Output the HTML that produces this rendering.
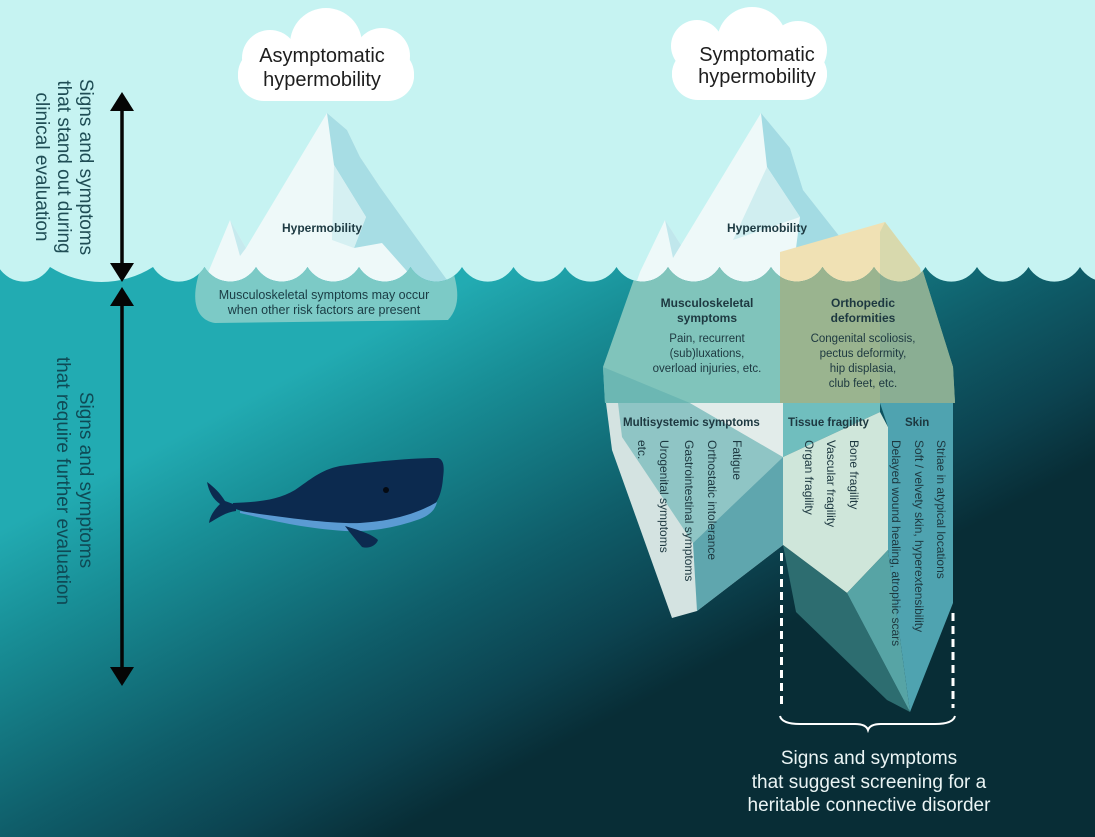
<!DOCTYPE html>
<html><head><meta charset="utf-8">
<style>
html,body{margin:0;padding:0;background:#c6f3f2;}
svg{display:block;}
text{font-family:"Liberation Sans",Arial,sans-serif;}
</style></head><body>
<svg width="1095" height="837" viewBox="0 0 1095 837" xmlns="http://www.w3.org/2000/svg">
<defs>
<linearGradient id="wg" gradientUnits="userSpaceOnUse" x1="104" y1="475" x2="317" y2="875">
<stop offset="0" stop-color="#22abb2"/>
<stop offset="0.22" stop-color="#188e96"/>
<stop offset="0.59" stop-color="#0f5e6a"/>
<stop offset="0.83" stop-color="#0c4350"/>
<stop offset="1" stop-color="#082d36"/>
</linearGradient>
<clipPath id="wc"><path d="M-1.5,267 A30,30 0 0 0 50,267 A96,96 0 0 0 153,267 A30,30 0 0 0 204.5,267 A30,30 0 0 0 256,267 A30,30 0 0 0 307.5,267 A30,30 0 0 0 359,267 A30,30 0 0 0 410.5,267 A30,30 0 0 0 462,267 A30,30 0 0 0 513.5,267 A30,30 0 0 0 565,267 A30,30 0 0 0 616.5,267 A30,30 0 0 0 668,267 A30,30 0 0 0 719.5,267 A30,30 0 0 0 771,267 A30,30 0 0 0 822.5,267 A30,30 0 0 0 874,267 A30,30 0 0 0 925.5,267 A30,30 0 0 0 977,267 A30,30 0 0 0 1028.5,267 A30,30 0 0 0 1080,267 A30,30 0 0 0 1131.5,267 L1131.5,837 L-2,837 Z"/></clipPath>
</defs>

<rect width="1095" height="837" fill="#c6f3f2"/>

<!-- clouds -->
<g fill="#ffffff">
<rect x="238" y="48" width="176" height="53" rx="26"/>
<circle cx="270" cy="58" r="28"/>
<circle cx="326" cy="44" r="36"/>
<circle cx="382" cy="56" r="28"/>
<circle cx="390" cy="76" r="24"/>
<circle cx="262" cy="76" r="24"/>

<rect x="672" y="48" width="155" height="52" rx="26"/>
<circle cx="697" cy="46" r="26"/>
<circle cx="752" cy="42" r="35"/>
<circle cx="798" cy="50" r="29"/>
<circle cx="696" cy="74" r="24"/>
<circle cx="803" cy="74" r="24"/>
</g>
<text x="322" y="62" font-size="20" fill="#1e1e1e" text-anchor="middle">Asymptomatic</text>
<text x="322" y="86" font-size="20" fill="#1e1e1e" text-anchor="middle">hypermobility</text>
<text x="757" y="61" font-size="20" fill="#1e1e1e" text-anchor="middle">Symptomatic</text>
<text x="757" y="83" font-size="20" fill="#1e1e1e" text-anchor="middle">hypermobility</text>

<!-- left iceberg above water -->
<path d="M198,295 L210,268 L230,220 L246,248 L327,113 L347,130 L360,157 L380,187 L413,233 L458,295 Z" fill="#eef9f9"/>
<path d="M327,113 L347,130 L360,157 L380,187 L413,233 L458,295 L428,295 L382,243 L354,248 L366,217 L334,165 Z" fill="#a7dde4"/>
<path d="M334,165 L366,217 L354,248 L332,240 Z" fill="#d5f0f2"/>
<path d="M230,220 L246,248 L240,256 Z" fill="#c6eaee"/>

<!-- right iceberg above water -->
<path d="M632,295 L640,272 L665,220 L681,245 L761,113 L790,148 L803,190 L840,237 L860,295 Z" fill="#eef9f9"/>
<path d="M761,113 L790,148 L803,190 L840,237 L860,295 L790,295 L800,217 L767,167 Z" fill="#a3dbe3"/>
<path d="M767,167 L800,217 L733,240 Z" fill="#d0eef0"/>
<path d="M665,220 L681,245 L673,258 Z" fill="#c0e7ec"/>
<path d="M780,252 L885,222 L920,268 L925,295 L780,295 Z" fill="#f0e1b4"/>
<path d="M885,222 L920,268 L925,295 L880,295 L880,232 Z" fill="#d8d9ad"/>

<!-- water -->
<rect width="1095" height="837" fill="url(#wg)" clip-path="url(#wc)"/>

<!-- underwater parts -->
<g clip-path="url(#wc)">
<path d="M203,262 L450,262 C458,285 462,305 448,320 L215,323 C196,320 188,300 203,262 Z" fill="#7ccac6"/>

<path d="M640,262 L780,262 L780,403 L605,403 L603,367 Z" fill="#80c4bb"/>
<path d="M603,367 L690,403 L605,403 Z" fill="#6cb7b3"/>
<path d="M780,262 L920,262 L953,367 L955,403 L780,403 Z" fill="#9ab48f"/>
<path d="M880,262 L920,262 L953,367 L955,403 L880,403 Z" fill="#8aae93"/>
</g>

<!-- lower band -->
<path d="M606,403 L783,403 L783,545 L697,611 L672,618 L612,450 Z" fill="#d4e3e1"/>
<path d="M618,403 L690,403 L783,457 L693,543 L622,437 Z" fill="#8fc5c5"/>
<path d="M690,403 L783,403 L783,457 Z" fill="#e2ecea"/>
<path d="M783,457 L783,545 L697,611 L693,543 Z" fill="#5fa6ae"/>

<path d="M783,403 L880,403 L880,412 L783,457 Z" fill="#70bebe"/>
<path d="M783,457 L880,412 L888,427 L888,550 L847,593 L783,545 Z" fill="#cfe6da"/>
<path d="M783,545 L847,593 L910,712 L887,700 L796,612 Z" fill="#2d6d70"/>
<path d="M847,593 L888,550 L910,712 Z" fill="#57a4a5"/>
<path d="M880,403 L953,403 L953,603 L910,712 L888,550 L888,427 Z" fill="#4fa3b0"/>

<!-- whale -->
<path d="M236,505 L225,501 C220,493 214,487 207,482 C209,492 213,499 220,504 C214,510 210,516 209,523 C218,518 226,512 236,511 Z" fill="#0c2a4f"/>
<path d="M233,503 C250,502 275,502 295,490 C310,480 320,470 340,466 C370,462 410,458 438,458 C445,460 444,470 443,478 C442,492 438,503 430,509 C410,520 385,528 360,530 C330,531 290,522 255,514 C245,512 238,510 233,508 Z" fill="#0c2a4f"/>
<path d="M240,511 C280,517 330,524 360,523 C395,521 420,512 437,502 C435,510 430,515 420,519 C395,528 370,532 345,531 C300,528 265,519 240,513 Z" fill="#5b9bd3"/>
<path d="M345,526 C358,530 372,534 378,540 C376,546 368,549 362,547 C356,540 350,533 345,526 Z" fill="#0c2a4f"/>
<circle cx="386" cy="490" r="3" fill="#050a12"/>

<!-- iceberg labels -->
<text x="322" y="232" font-size="12" font-weight="bold" fill="#1d3a42" text-anchor="middle">Hypermobility</text>
<text x="767" y="232" font-size="12" font-weight="bold" fill="#1d3a42" text-anchor="middle">Hypermobility</text>
<text x="324" y="299" font-size="12.5" fill="#1a3c44" text-anchor="middle">Musculoskeletal symptoms may occur</text>
<text x="324" y="314" font-size="12.5" fill="#1a3c44" text-anchor="middle">when other risk factors are present</text>

<g fill="#1d3840" text-anchor="middle">
<text x="707" y="307" font-size="12" font-weight="bold">Musculoskeletal</text>
<text x="707" y="322" font-size="12" font-weight="bold">symptoms</text>
<text x="707" y="342" font-size="11.5">Pain, recurrent</text>
<text x="707" y="357" font-size="11.5">(sub)luxations,</text>
<text x="707" y="372" font-size="11.5">overload injuries, etc.</text>
<text x="863" y="307" font-size="12" font-weight="bold">Orthopedic</text>
<text x="863" y="322" font-size="12" font-weight="bold">deformities</text>
<text x="863" y="342" font-size="11.5">Congenital scoliosis,</text>
<text x="863" y="357" font-size="11.5">pectus deformity,</text>
<text x="863" y="372" font-size="11.5">hip displasia,</text>
<text x="863" y="387" font-size="11.5">club feet, etc.</text>
</g>
<g fill="#1d3840" font-size="11.5" font-weight="bold">
<text x="623" y="426">Multisystemic symptoms</text>
<text x="788" y="426">Tissue fragility</text>
<text x="905" y="426">Skin</text>
</g>
<g fill="#1d3840" font-size="12">
<text transform="translate(733,440) rotate(90)">Fatigue</text>
<text transform="translate(708,440) rotate(90)">Orthostatic intolerance</text>
<text transform="translate(685,440) rotate(90)">Gastrointestinal symptoms</text>
<text transform="translate(660,440) rotate(90)">Urogenital symptoms</text>
<text transform="translate(638,440) rotate(90)">etc.</text>
<text transform="translate(850,440) rotate(90)">Bone fragility</text>
<text transform="translate(827,440) rotate(90)">Vascular fragility</text>
<text transform="translate(805,440) rotate(90)">Organ fragility</text>
<text transform="translate(937,440) rotate(90)">Striae in atypical locations</text>
<text transform="translate(915,440) rotate(90)">Soft / velvety skin, hyperextensibility</text>
<text transform="translate(892,440) rotate(90)">Delayed wound healing, atrophic scars</text>
</g>

<!-- left side labels -->
<g font-size="19" text-anchor="middle" fill="#1f4d55">
<text transform="translate(80,167) rotate(90)">Signs and symptoms</text>
<text transform="translate(58,167) rotate(90)">that stand out during</text>
<text transform="translate(36,167) rotate(90)">clinical evaluation</text>
</g>
<g font-size="19" text-anchor="middle" fill="#0f4a55">
<text transform="translate(80,480) rotate(90)">Signs and symptoms</text>
<text transform="translate(57,481) rotate(90)">that require further evaluation</text>
</g>

<!-- arrows -->
<g fill="#050505" stroke="none">
<rect x="120.25" y="105" width="3.5" height="163"/>
<polygon points="122,92 110,111 134,111"/>
<polygon points="122,282 110,263 134,263"/>
<rect x="120.25" y="300" width="3.5" height="372"/>
<polygon points="122,287 110,306 134,306"/>
<polygon points="122,686 110,667 134,667"/>
</g>

<!-- dashed lines and brace -->
<line x1="781.5" y1="553" x2="781.5" y2="708" stroke="#ffffff" stroke-width="3" stroke-dasharray="8 5"/>
<line x1="953" y1="613" x2="953" y2="708" stroke="#ffffff" stroke-width="3" stroke-dasharray="8 5"/>
<path d="M780,716 Q782,724 800,724 L855,724 Q866,724 868,730 Q870,724 881,724 L935,724 Q953,724 955,716" fill="none" stroke="#ffffff" stroke-width="2"/>

<g font-size="19" text-anchor="middle" fill="#eaf4f4">
<text x="869" y="764">Signs and symptoms</text>
<text x="869" y="788">that suggest screening for a</text>
<text x="869" y="811">heritable connective disorder</text>
</g>
</svg>
</body></html>
